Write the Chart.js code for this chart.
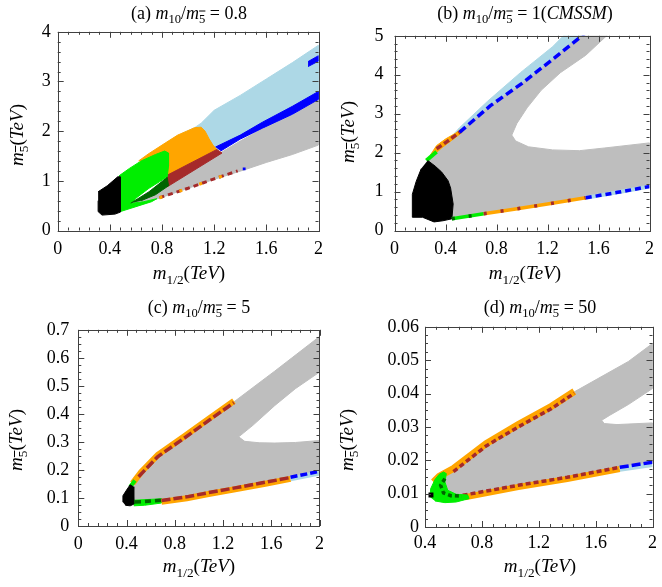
<!DOCTYPE html>
<html>
<head>
<meta charset="utf-8">
<script src="https://cdn.jsdelivr.net/npm/chart.js@4.4.1/dist/chart.umd.min.js"></script>
<style>
  body { margin: 0; background: #fff; }
  #page { position: relative; width: 662px; height: 587px; overflow: hidden; font-family: "Liberation Serif", "DejaVu Serif", serif; }
  canvas { position: absolute; }
  .t { position: absolute; transform: translate(-50%, -50%); white-space: nowrap; font-size: 18px; color: #000; }
  .ax { font-size: 19px; }
  .rot { transform: translate(-50%, -50%) rotate(-90deg); }
  .t sub { font-size: 0.7em; vertical-align: baseline; position: relative; top: 0.35em; }
  .ov { text-decoration: overline; }
</style>
</head>
<body>
<div id="page">
  <canvas id="pa" width="331" height="250" style="left:0;top:14px"></canvas>
  <canvas id="pb" width="331" height="250" style="left:331px;top:14px"></canvas>
  <canvas id="pc" width="331" height="250" style="left:0;top:310px"></canvas>
  <canvas id="pd" width="331" height="250" style="left:331px;top:310px"></canvas>

  <div class="t" style="left:189px;top:13px">(a) <i>m</i><sub>10</sub>/<i>m</i><sub><span class="ov">5</span></sub> = 0.8</div>
  <div class="t" style="left:525px;top:13px">(b) <i>m</i><sub>10</sub>/<i>m</i><sub><span class="ov">5</span></sub> = 1(<i>CMSSM</i>)</div>
  <div class="t" style="left:199px;top:307px">(c) <i>m</i><sub>10</sub>/<i>m</i><sub><span class="ov">5</span></sub> = 5</div>
  <div class="t" style="left:540px;top:307px">(d) <i>m</i><sub>10</sub>/<i>m</i><sub><span class="ov">5</span></sub> = 50</div>

  <div class="t ax" style="left:189px;top:273px"><i>m</i><sub>1/2</sub>(<i>TeV</i>)</div>
  <div class="t ax" style="left:525px;top:273px"><i>m</i><sub>1/2</sub>(<i>TeV</i>)</div>
  <div class="t ax" style="left:199px;top:566px"><i>m</i><sub>1/2</sub>(<i>TeV</i>)</div>
  <div class="t ax" style="left:540px;top:566px"><i>m</i><sub>1/2</sub>(<i>TeV</i>)</div>

  <div class="t ax rot" style="left:17px;top:135px"><i>m</i><sub><span class="ov">5</span></sub>(<i>TeV</i>)</div>
  <div class="t ax rot" style="left:348px;top:132px"><i>m</i><sub><span class="ov">5</span></sub>(<i>TeV</i>)</div>
  <div class="t ax rot" style="left:16px;top:440px"><i>m</i><sub><span class="ov">5</span></sub>(<i>TeV</i>)</div>
  <div class="t ax rot" style="left:347px;top:440px"><i>m</i><sub><span class="ov">5</span></sub>(<i>TeV</i>)</div>
</div>
<script>
// ---- ticks ----
const xTicks = [0, 0.4, 0.8, 1.2, 1.6, 2];
const xLabels = ['0', '0.4', '0.8', '1.2', '1.6', '2'];
const dXTicks = [0.4, 0.8, 1.2, 1.6, 2];
const dXLabels = ['0.4', '0.8', '1.2', '1.6', '2'];
const aYTicks = [0, 1, 2, 3, 4];
const aYLabels = ['0', '1', '2', '3', '4'];
const bYTicks = [0, 1, 2, 3, 4, 5];
const bYLabels = ['0', '1', '2', '3', '4', '5'];
const cYTicks = [0, 0.1, 0.2, 0.3, 0.4, 0.5, 0.6, 0.7];
const cYLabels = ['0', '0.1', '0.2', '0.3', '0.4', '0.5', '0.6', '0.7'];
const dYTicks = [0, 0.01, 0.02, 0.03, 0.04, 0.05, 0.06];
const dYLabels = ['0', '0.01', '0.02', '0.03', '0.04', '0.05', '0.06'];

// ---- (a) m10/m5 = 0.8 : regions as [m1/2, m5] outlines in TeV ----
const aLightBlue = [[0.95,1.95],[1.05,2.07],[1.1,2.16],[1.2,2.42],[1.4,2.72],[1.6,3.05],[1.8,3.38],[2.0,3.73],[2.0,2.62],[1.8,2.34],[1.57,2.07],[1.4,1.86],[1.22,1.62],[1.1,1.6]];
const aGray = [[0.56,0.52],[0.84,0.95],[1.24,1.55],[1.4,1.8],[1.57,2.05],[1.8,2.32],[2.0,2.64],[2.0,1.72],[1.8,1.53],[1.6,1.37],[1.43,1.22],[1.2,1.03],[1.0,0.85],[0.8,0.67],[0.6,0.5]];
const aBlueBand = [[1.21,1.68],[1.4,1.92],[1.57,2.18],[1.8,2.5],[2.0,2.8],[2.0,2.64],[1.8,2.34],[1.57,2.06],[1.4,1.84],[1.25,1.6]];
const aBlueTip = [[1.92,3.3],[2.0,3.41],[2.0,3.52],[1.92,3.4]];
const aOrange = [[0.62,1.4],[0.7,1.55],[0.83,1.77],[0.92,1.92],[0.99,2.0],[1.05,2.07],[1.1,2.08],[1.13,2.0],[1.16,1.85],[1.19,1.72],[1.22,1.63],[0.83,1.1],[0.8,1.3]];
const aBrown = [[0.83,1.1],[1.22,1.63],[1.26,1.56],[0.84,0.88]];
const aGreen = [[0.47,1.1],[0.55,1.25],[0.64,1.4],[0.75,1.53],[0.82,1.6],[0.85,1.56],[0.85,1.3],[0.84,1.08],[0.78,0.98],[0.7,0.85],[0.6,0.65],[0.57,0.55],[0.66,0.58],[0.76,0.64],[0.72,0.58],[0.6,0.48],[0.48,0.38]];
const aDarkGreen = [[0.56,0.55],[0.7,0.78],[0.84,1.07],[0.85,0.9],[0.75,0.72],[0.64,0.6]];
const aBlack = [[0.31,0.78],[0.38,0.9],[0.46,1.08],[0.48,1.08],[0.48,0.7],[0.48,0.37],[0.44,0.33],[0.34,0.31],[0.31,0.38],[0.31,0.6]];
const aEdge = [[0.78,0.66],[1.0,0.85],[1.2,1.04],[1.38,1.2]];
const aBlueDot = [[1.43,1.24]];

// ---- (b) m10/m5 = 1 (CMSSM) ----
const bLightBlue = [[0.45,2.42],[0.51,2.64],[0.73,3.32],[0.99,4.06],[1.24,4.72],[1.34,5.05],[1.5,5.05],[1.25,4.42],[1.0,3.78],[0.75,3.2],[0.51,2.52]];
const bGray = [[0.26,1.8],[0.35,2.15],[0.51,2.52],[0.75,3.2],[1.0,3.78],[1.25,4.42],[1.47,5.05],[1.68,5.05],[1.5,4.5],[1.3,4.05],[1.15,3.6],[1.04,3.15],[0.96,2.75],[0.92,2.45],[0.95,2.3],[1.05,2.15],[1.24,2.07],[1.45,2.05],[1.65,2.12],[2.0,2.25],[2.0,1.13],[1.75,0.98],[1.5,0.84],[1.2,0.68],[0.95,0.55],[0.7,0.43],[0.45,0.3],[0.35,0.6],[0.3,1.2]];
const bOrange = [[0.28,1.93],[0.33,2.18],[0.4,2.35],[0.48,2.5],[0.52,2.6],[0.53,2.52],[0.45,2.32],[0.37,2.12],[0.31,1.95]];
const bUpperBrown = [[0.33,2.1],[0.42,2.3],[0.51,2.52]];
const bUpperBlue = [[0.51,2.52],[0.75,3.2],[1.0,3.78],[1.25,4.42],[1.5,5.08]];
const bUpperGreen = [[0.25,1.8],[0.33,2.02]];
const bBlack = [[0.26,1.8],[0.32,1.65],[0.37,1.5],[0.42,1.28],[0.44,1.09],[0.46,0.68],[0.45,0.3],[0.38,0.25],[0.31,0.22],[0.22,0.34],[0.14,0.34],[0.14,0.93],[0.17,1.26],[0.21,1.59]];
const bLowerGreen = [[0.45,0.3],[0.7,0.43]];
const bLowerOrange = [[0.7,0.43],[0.95,0.55],[1.2,0.68],[1.5,0.84]];
const bLowerBlue = [[1.5,0.84],[1.75,0.98],[2.0,1.13]];

// ---- (c) m10/m5 = 5 ----
const cGray = [[0.44,0.14],[0.52,0.19],[0.66,0.252],[0.88,0.318],[1.08,0.38],[1.3,0.446],[1.63,0.553],[2.0,0.676],[2.0,0.549],[1.8,0.49],[1.63,0.43],[1.45,0.36],[1.33,0.318],[1.38,0.302],[1.5,0.297],[1.63,0.296],[1.8,0.298],[2.0,0.305],[2.0,0.193],[1.76,0.172],[1.55,0.155],[1.3,0.135],[1.08,0.118],[0.9,0.103],[0.69,0.09],[0.55,0.084],[0.46,0.082]];
const cUpperArm = [[0.45,0.152],[0.52,0.192],[0.66,0.254],[0.88,0.32],[1.08,0.382],[1.29,0.446]];
const cUpperBrown = [[0.5,0.176],[0.66,0.248],[0.88,0.314],[1.08,0.376],[1.29,0.44]];
const cUpperGreen = [[0.43,0.14],[0.47,0.162]];
const cLowerGreen = [[0.46,0.092],[0.69,0.097],[0.69,0.082],[0.55,0.074],[0.46,0.072]];
const cLowerDarkGreen = [[0.47,0.086],[0.55,0.087],[0.69,0.092]];
const cLowerOrange = [[0.69,0.086],[0.9,0.099],[1.08,0.114],[1.3,0.131],[1.55,0.151],[1.76,0.168]];
const cLowerBrown = [[0.69,0.091],[0.9,0.104],[1.08,0.119],[1.3,0.136],[1.55,0.156],[1.76,0.173]];
const cLowerBlue = [[1.76,0.174],[2.0,0.195]];
const cLowerLightBlue = [[1.76,0.168],[2.0,0.189]];
const cBlack = [[0.37,0.085],[0.37,0.108],[0.4,0.128],[0.43,0.147],[0.455,0.14],[0.46,0.11],[0.46,0.078],[0.43,0.072],[0.39,0.074]];

// ---- (d) m10/m5 = 50 ----
const dGray = [[0.44,0.0115],[0.5,0.0148],[0.6,0.0172],[0.83,0.0247],[1.056,0.0304],[1.29,0.036],[1.45,0.0405],[1.83,0.0496],[2.0,0.055],[2.0,0.0415],[1.83,0.0367],[1.7,0.0335],[1.643,0.032],[1.66,0.031],[1.75,0.0307],[2.0,0.0312],[2.0,0.0194],[1.77,0.0178],[1.4,0.0148],[1.056,0.0124],[0.8,0.0102],[0.665,0.0094],[0.55,0.0095],[0.45,0.01]];
const dUpperOrange = [[0.46,0.0135],[0.5,0.0152],[0.6,0.0175],[0.83,0.025],[1.056,0.0307],[1.29,0.0362],[1.45,0.0406]];
const dUpperBrown = [[0.6,0.0166],[0.83,0.0243],[1.056,0.03],[1.29,0.0355],[1.45,0.0401]];
const dGreen = [[0.435,0.009],[0.44,0.0115],[0.47,0.0142],[0.5,0.0158],[0.53,0.0165],[0.55,0.016],[0.54,0.0135],[0.56,0.011],[0.62,0.0098],[0.7,0.0096],[0.71,0.0085],[0.62,0.0075],[0.54,0.0073],[0.47,0.0078]];
const dDarkGreen = [[0.54,0.0145],[0.51,0.0125],[0.53,0.0102],[0.58,0.0094],[0.66,0.0093]];
const dLowerOrange = [[0.68,0.0089],[1.056,0.012],[1.4,0.0144],[1.77,0.0174]];
const dLowerBrown = [[0.665,0.0095],[1.056,0.0125],[1.4,0.0149],[1.77,0.0179]];
const dLowerBlue = [[1.77,0.0179],[2.0,0.0194]];
const dLowerLightBlue = [[1.77,0.0173],[2.0,0.0187]];
const dBlack = [[0.442,0.0096]];

const LIGHTBLUE = '#add8e6', GRAY = '#bebebe', ORANGE = '#ffa500', GREEN = '#00ee00',
      DKGREEN = '#006400', BROWN = '#a52a2a', BLUE = '#0000ff', BLACK = '#000000';

const pts = arr => arr.map(([x, y]) => ({x, y}));
const area = (arr, color) => ({data: pts(arr), backgroundColor: color, borderColor: color, borderWidth: 1, pointRadius: 0, fill: 'shape'});
const trace = (arr, color, width, dash) => ({data: pts(arr), borderColor: color, borderWidth: width, borderDash: dash || [], borderCapStyle: 'butt', pointRadius: 0, fill: false});
const dots = (arr, color, r) => ({data: pts(arr), showLine: false, pointRadius: r, pointStyle: 'rect', backgroundColor: color, borderWidth: 0});

// border box plus gnuplot-style inward ticks on all four sides
const framePlugin = {
  id: 'frame',
  afterDraw(chart, args, opts) {
    const {ctx, chartArea: a, scales: {x, y}} = chart;
    ctx.save();
    ctx.strokeStyle = '#404040';
    ctx.lineWidth = 1;
    ctx.beginPath();
    const xs = x.ticks.map(t => t.value), ys = y.ticks.map(t => t.value);
    const each = (vals, sub, fn) => {
      vals.forEach((v, i) => {
        fn(v, 6);
        if (i < vals.length - 1) {
          for (let k = 1; k < sub; k++) fn(v + (vals[i + 1] - v) * k / sub, 3);
        }
      });
    };
    each(xs, opts.xMinor, (v, len) => {
      const p = Math.round(x.getPixelForValue(v)) + 0.5;
      ctx.moveTo(p, a.bottom); ctx.lineTo(p, a.bottom - len);
      ctx.moveTo(p, a.top); ctx.lineTo(p, a.top + len);
    });
    each(ys, opts.yMinor, (v, len) => {
      const p = Math.round(y.getPixelForValue(v)) + 0.5;
      ctx.moveTo(a.left, p); ctx.lineTo(a.left + len, p);
      ctx.moveTo(a.right, p); ctx.lineTo(a.right - len, p);
    });
    ctx.stroke();
    ctx.strokeRect(Math.round(a.left) + 0.5, Math.round(a.top) + 0.5, Math.round(a.right - a.left), Math.round(a.bottom - a.top));
    ctx.restore();
  }
};

function panel(id, cfg) {
  const ds = cfg.datasets;
  ds.forEach((d, i) => { d.order = ds.length - i; });
  const fixTicks = (vals, labels) => ({
    afterBuildTicks: s => { s.ticks = vals.map(v => ({value: v})); },
    ticks: {callback: (v, i) => labels[i], color: '#000', font: {family: 'Liberation Serif', size: 18}, maxRotation: 0, autoSkip: false}
  });
  const xs = fixTicks(cfg.xTicks, cfg.xLabels);
  const ys = fixTicks(cfg.yTicks, cfg.yLabels);
  xs.ticks.padding = cfg.xPad;
  ys.ticks.padding = cfg.yPad;
  return new Chart(document.getElementById(id), {
    type: 'line',
    data: {datasets: ds},
    plugins: [framePlugin],
    options: {
      responsive: false,
      animation: false,
      events: [],
      layout: {padding: {left: 0, right: cfg.padRight, top: cfg.padTop, bottom: 0}},
      plugins: {legend: {display: false}, tooltip: {enabled: false}, frame: {xMinor: 5, yMinor: cfg.yMinor}},
      scales: {
        x: Object.assign({type: 'linear', min: cfg.xMin, max: 2, grid: {display: false, drawTicks: false}, border: {display: false},
          afterFit: s => { s.height = cfg.xHeight; }}, xs),
        y: Object.assign({type: 'linear', min: 0, max: cfg.yMax, grid: {display: false, drawTicks: false}, border: {display: false},
          afterFit: s => { s.width = cfg.yWidth; }}, ys)
      }
    }
  });
}

panel('pa', {
  xMin: 0, yMax: 4, xTicks, xLabels, yTicks: aYTicks, yLabels: aYLabels, yMinor: 5,
  yWidth: 57.7, xHeight: 33.5, padRight: 11, padTop: 15.7, xPad: 8, yPad: 7,
  datasets: [
    area(aLightBlue, LIGHTBLUE),
    area(aGray, GRAY),
    area(aBlueBand, BLUE),
    area(aBlueTip, BLUE),
    area(aOrange, ORANGE),
    area(aBrown, BROWN),
    area(aGreen, GREEN),
    area(aDarkGreen, DKGREEN),
    area(aBlack, BLACK),
    trace(aEdge, BROWN, 3, [5, 4]),
    trace(aEdge, ORANGE, 3, [3, 18]),
    dots(aBlueDot, BLUE, 2)
  ]
});

panel('pb', {
  xMin: 0, yMax: 5, xTicks, xLabels, yTicks: bYTicks, yLabels: bYLabels, yMinor: 5,
  yWidth: 63.5, xHeight: 33.5, padRight: 6, padTop: 15.5, xPad: 8, yPad: 11,
  datasets: [
    area(bLightBlue, LIGHTBLUE),
    area(bGray, GRAY),
    area(bOrange, ORANGE),
    trace(bUpperBrown, BROWN, 3.5, [6, 3]),
    trace(bUpperBlue, BLUE, 3.5, [8, 4]),
    trace(bUpperGreen, GREEN, 4),
    area(bBlack, BLACK),
    trace(bLowerGreen, GREEN, 3.5),
    trace(bLowerGreen, DKGREEN, 3.5, [3, 14]),
    trace(bLowerOrange, ORANGE, 3.5),
    trace(bLowerOrange, BROWN, 3.5, [3, 14]),
    trace(bLowerBlue, LIGHTBLUE, 4),
    trace(bLowerBlue, BLUE, 3.5, [6, 4])
  ]
});

panel('pc', {
  xMin: 0, yMax: 0.7, xTicks, xLabels, yTicks: cYTicks, yLabels: cYLabels, yMinor: 4,
  yWidth: 78.3, xHeight: 34, padRight: 11, padTop: 14.9, xPad: 7, yPad: 9,
  datasets: [
    area(cGray, GRAY),
    trace(cUpperArm, ORANGE, 6),
    trace(cUpperBrown, BROWN, 3.5, [9, 3]),
    trace(cUpperGreen, GREEN, 4),
    area(cLowerGreen, GREEN),
    trace(cLowerDarkGreen, DKGREEN, 3.5, [6, 4]),
    trace(cLowerOrange, ORANGE, 6),
    trace(cLowerBrown, BROWN, 3.5, [9, 3]),
    trace(cLowerLightBlue, LIGHTBLUE, 5),
    trace(cLowerBlue, BLUE, 3.5, [7, 3]),
    area(cBlack, BLACK)
  ]
});

panel('pd', {
  xMin: 0.4, yMax: 0.06, xTicks: dXTicks, xLabels: dXLabels, yTicks: dYTicks, yLabels: dYLabels, yMinor: 4,
  yWidth: 94, xHeight: 33, padRight: 5.3, padTop: 14.8, xPad: 5, yPad: 6,
  datasets: [
    area(dGray, GRAY),
    trace(dUpperOrange, ORANGE, 7),
    trace(dUpperBrown, BROWN, 3.5, [5, 3]),
    trace(dLowerOrange, ORANGE, 6),
    trace(dLowerBrown, BROWN, 3.5, [5, 3]),
    trace(dLowerLightBlue, LIGHTBLUE, 5),
    trace(dLowerBlue, BLUE, 3.5, [9, 3]),
    area(dGreen, GREEN),
    trace(dDarkGreen, DKGREEN, 3.5, [4, 3]),
    dots(dBlack, BLACK, 3.5)
  ]
});
</script>
</body>
</html>
